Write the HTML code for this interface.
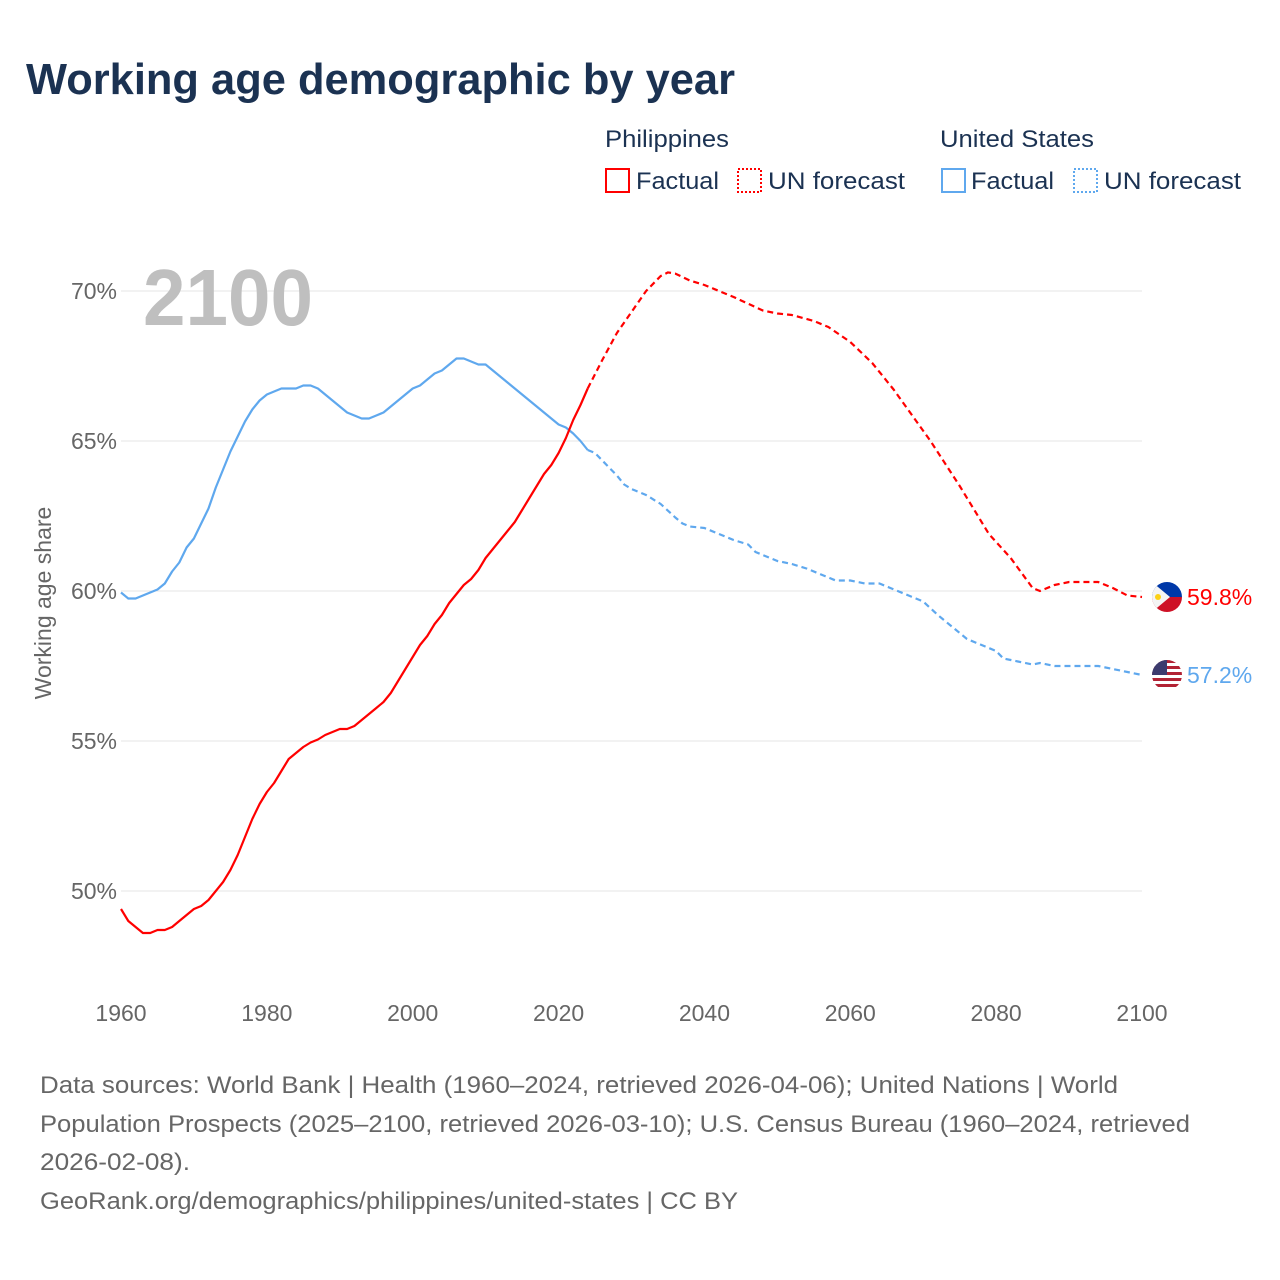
<!DOCTYPE html>
<html><head><meta charset="utf-8"><style>
html,body{margin:0;padding:0;background:#fff;}
svg{display:block;font-family:"Liberation Sans",sans-serif;}
</style></head><body>
<svg id="chart" width="1280" height="1280" viewBox="0 0 1280 1280">
<text x="26" y="94" font-size="44" font-weight="bold" fill="#1b3252" textLength="709" lengthAdjust="spacingAndGlyphs">Working age demographic by year</text>
<g>
<text x="605" y="147" font-size="24" fill="#1b3252" textLength="124" lengthAdjust="spacingAndGlyphs">Philippines</text>
<text x="940" y="147" font-size="24" fill="#1b3252" textLength="154" lengthAdjust="spacingAndGlyphs">United States</text>
<g><rect x="606" y="169" width="23" height="23" fill="none" stroke="#ff0000" stroke-width="2"/><text x="636" y="189" font-size="24" fill="#1b3252" textLength="83" lengthAdjust="spacingAndGlyphs">Factual</text></g>
<g><rect x="738" y="169" width="23" height="23" fill="none" stroke="#ff0000" stroke-width="2" stroke-dasharray="2,2"/><text x="768" y="189" font-size="24" fill="#1b3252" textLength="137" lengthAdjust="spacingAndGlyphs">UN forecast</text></g>
<g><rect x="942" y="169" width="23" height="23" fill="none" stroke="#5fa8ee" stroke-width="2"/><text x="971" y="189" font-size="24" fill="#1b3252" textLength="83" lengthAdjust="spacingAndGlyphs">Factual</text></g>
<g><rect x="1074" y="169" width="23" height="23" fill="none" stroke="#5fa8ee" stroke-width="2" stroke-dasharray="2,2"/><text x="1104" y="189" font-size="24" fill="#1b3252" textLength="137" lengthAdjust="spacingAndGlyphs">UN forecast</text></g>
</g>
<g id="grid"></g>
<g id="yticks"></g>
<g id="xticks"></g>
<text x="143" y="325" font-size="80" font-weight="bold" fill="#bfbfbf" textLength="170" lengthAdjust="spacingAndGlyphs">2100</text>
<text transform="translate(51,603) rotate(-90)" text-anchor="middle" font-size="23" fill="#666">Working age share</text>
<g id="series"></g>
<g>
<clipPath id="cph"><circle cx="1167" cy="597" r="15"/></clipPath>
<g clip-path="url(#cph)"><rect x="1152" y="582" width="30" height="15" fill="#0038a8"/><rect x="1152" y="597" width="30" height="15" fill="#ce1126"/><polygon points="1152,582 1170,597 1152,612" fill="#f4f4f4"/><circle cx="1158" cy="597" r="3" fill="#fcd116"/></g>
</g>
<g>
<clipPath id="cus"><circle cx="1167" cy="675" r="15"/></clipPath>
<g clip-path="url(#cus)"><rect x="1152" y="660" width="30" height="30" fill="#fff"/>
<rect x="1152" y="660" width="30" height="3" fill="#b22234"/><rect x="1152" y="666" width="30" height="3" fill="#b22234"/><rect x="1152" y="672" width="30" height="3" fill="#b22234"/><rect x="1152" y="678" width="30" height="3" fill="#b22234"/><rect x="1152" y="684" width="30" height="3" fill="#b22234"/>
<rect x="1152" y="660" width="15" height="15" fill="#3c3b6e"/></g>
</g>
<text x="1187" y="605" font-size="23" fill="#ff0000">59.8%</text>
<text x="1187" y="683" font-size="23" fill="#5fa8ee">57.2%</text>
<g font-size="24" fill="#666">
<text x="40" y="1093" textLength="1078" lengthAdjust="spacingAndGlyphs">Data sources: World Bank | Health (1960–2024, retrieved 2026-04-06); United Nations | World</text>
<text x="40" y="1132" textLength="1150" lengthAdjust="spacingAndGlyphs">Population Prospects (2025–2100, retrieved 2026-03-10); U.S. Census Bureau (1960–2024, retrieved</text>
<text x="40" y="1170" textLength="150" lengthAdjust="spacingAndGlyphs">2026-02-08).</text>
<text x="40" y="1209" textLength="698" lengthAdjust="spacingAndGlyphs">GeoRank.org/demographics/philippines/united-states | CC BY</text>
</g>
</svg>
<script>
const yTicks=[50,55,60,65,70];
const xTicks=[1960,1980,2000,2020,2040,2060,2080,2100];
const phFactYears=[1960,1961,1962,1963,1964,1965,1966,1967,1968,1969,1970,1971,1972,1973,1974,1975,1976,1977,1978,1979,1980,1981,1982,1983,1984,1985,1986,1987,1988,1989,1990,1991,1992,1993,1994,1995,1996,1997,1998,1999,2000,2001,2002,2003,2004,2005,2006,2007,2008,2009,2010,2011,2012,2013,2014,2015,2016,2017,2018,2019,2020,2021,2022,2023,2024];
const phFactValues=[49.4,49.0,48.8,48.6,48.6,48.7,48.7,48.8,49.0,49.2,49.4,49.5,49.7,50.0,50.3,50.7,51.2,51.8,52.4,52.9,53.3,53.6,54.0,54.4,54.6,54.8,54.95,55.05,55.2,55.3,55.4,55.4,55.5,55.7,55.9,56.1,56.3,56.6,57.0,57.4,57.8,58.2,58.5,58.9,59.2,59.6,59.9,60.2,60.4,60.7,61.1,61.4,61.7,62.0,62.3,62.7,63.1,63.5,63.9,64.2,64.6,65.1,65.7,66.2,66.75];
const phFcYears=[2024,2026,2028,2030,2032,2034,2035,2036,2038,2040,2044,2048,2050,2052,2055,2057,2060,2063,2066,2071,2075,2079,2082,2085,2086,2088,2090,2094,2096,2098,2100];
const phFcValues=[66.75,67.7,68.6,69.3,70.0,70.5,70.62,70.58,70.35,70.2,69.8,69.35,69.25,69.2,69.0,68.8,68.3,67.6,66.7,65.0,63.5,61.9,61.1,60.1,60.0,60.2,60.3,60.3,60.1,59.85,59.8];
const usFactYears=phFactYears;
const usFactValues=[59.95,59.75,59.75,59.85,59.95,60.05,60.25,60.65,60.95,61.45,61.75,62.25,62.75,63.45,64.05,64.65,65.15,65.65,66.05,66.35,66.55,66.65,66.75,66.75,66.75,66.85,66.85,66.75,66.55,66.35,66.15,65.95,65.85,65.75,65.75,65.85,65.95,66.15,66.35,66.55,66.75,66.85,67.05,67.25,67.35,67.55,67.75,67.75,67.65,67.55,67.55,67.35,67.15,66.95,66.75,66.55,66.35,66.15,65.95,65.75,65.55,65.45,65.25,65.0,64.7];
const usFcYears=[2024,2025,2026,2027,2028,2029,2030,2032,2034,2036,2037,2038,2040,2042,2044,2046,2047,2050,2052,2054,2056,2058,2060,2062,2064,2066,2068,2070,2072,2074,2076,2078,2080,2081,2083,2085,2086,2088,2094,2096,2098,2100];
const usFcValues=[64.7,64.6,64.35,64.1,63.85,63.55,63.4,63.2,62.9,62.45,62.25,62.15,62.1,61.9,61.7,61.55,61.3,61.0,60.9,60.75,60.55,60.35,60.35,60.25,60.25,60.05,59.85,59.65,59.2,58.8,58.4,58.2,58.0,57.75,57.65,57.55,57.6,57.5,57.5,57.4,57.3,57.2];

const NS='http://www.w3.org/2000/svg';
function xs(yr){return 121+(yr-1960)*(1142-121)/140;}
function ys(v){return 891-(v-50)*30;}
const grid=document.getElementById('grid'),yt=document.getElementById('yticks'),xt=document.getElementById('xticks'),ser=document.getElementById('series');
yTicks.forEach(v=>{
 const l=document.createElementNS(NS,'line');
 l.setAttribute('x1',121);l.setAttribute('x2',1142);l.setAttribute('y1',ys(v));l.setAttribute('y2',ys(v));
 l.setAttribute('stroke','#e6e6e6');l.setAttribute('stroke-width','1');
 
 
 grid.appendChild(l);
 const t=document.createElementNS(NS,'text');
 t.setAttribute('x',117);t.setAttribute('y',ys(v)+8);t.setAttribute('text-anchor','end');
 t.setAttribute('font-size','23');t.setAttribute('fill','#666');t.textContent=v+'%';
 
 
 yt.appendChild(t);
});
xTicks.forEach(yr=>{
 const t=document.createElementNS(NS,'text');
 t.setAttribute('x',xs(yr));t.setAttribute('y',1021);t.setAttribute('text-anchor','middle');
 t.setAttribute('font-size','23');t.setAttribute('fill','#666');t.textContent=yr;
 
 
 xt.appendChild(t);
});
function line(years,vals,color,dash,name){
 const p=document.createElementNS(NS,'polyline');
 p.setAttribute('points',years.map((y,i)=>xs(y).toFixed(1)+','+ys(vals[i]).toFixed(1)).join(' '));
 p.setAttribute('fill','none');p.setAttribute('stroke',color);p.setAttribute('stroke-width','2.2');
 p.setAttribute('stroke-linejoin','round');
 if(dash)p.setAttribute('stroke-dasharray','6,4');
 
 
 ser.appendChild(p);
}
line(usFactYears,usFactValues,'#5fa8ee',false,'us-factual-line');
line(usFcYears,usFcValues,'#5fa8ee',true,'us-forecast-line');
line(phFactYears,phFactValues,'#ff0000',false,'ph-factual-line');
line(phFcYears,phFcValues,'#ff0000',true,'ph-forecast-line');
</script>
</body></html>
